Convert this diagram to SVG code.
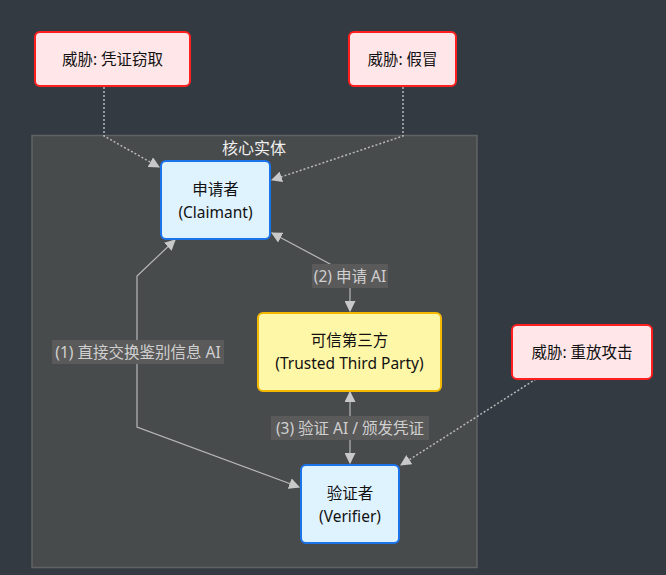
<svg xmlns="http://www.w3.org/2000/svg" width="666" height="575" viewBox="0 0 666 575">
<defs>
<marker id="ah" viewBox="0 0 10 10" refX="9" refY="5" markerWidth="11" markerHeight="11" markerUnits="userSpaceOnUse" orient="auto-start-reverse">
<path d="M0,0 L10,5 L0,10 z" fill="#c8c8c8"/>
</marker>
<style>
text{font-family:"Noto Sans","Noto Sans CJK SC",sans-serif;font-size:15.5px;text-anchor:middle;dominant-baseline:central}
.threat rect{fill:#ffe6e8;stroke:#ff1f1f;stroke-width:2}
.ent rect{fill:#dff3ff;stroke:#1a73e8;stroke-width:2}
.ttp rect{fill:#fff7a8;stroke:#f5b800;stroke-width:2}
.node text{fill:#111}
.e{fill:none;stroke:#b8b8b8;stroke-width:1.2}
.d{fill:none;stroke:#b8b8b8;stroke-width:1.5;stroke-dasharray:2,2}
.lb{fill:#5a5a5a}
.lt{fill:#d0d0d0}
</style>
</defs>
<rect width="666" height="575" fill="#333a42"/>
<g id="cluster">
<rect x="32" y="135.5" width="445" height="432" fill="#484b4c" stroke="#606364" stroke-width="1.5"/>
<text x="254" y="148" fill="#f0f0f0" style="font-size:16px">核心实体</text>
</g>
<g id="connectors">
<path class="d" d="M104,87 L104,136 L159,167" marker-end="url(#ah)"/>
<path class="d" d="M403,87 L403,136 L272,180" marker-end="url(#ah)"/>
<path class="d" d="M536,379 L401,465" marker-end="url(#ah)"/>
<path class="e" d="M299,487 L137,427 L137,276 L175,240" marker-start="url(#ah)" marker-end="url(#ah)"/>
<path class="e" d="M272,233 L330,264 L350,276 L350,311" marker-start="url(#ah)" marker-end="url(#ah)"/>
<path class="e" d="M350,392 L350,463" marker-start="url(#ah)" marker-end="url(#ah)"/>
<rect class="lb" x="52" y="340" width="172" height="24"/>
<text class="lt" x="138" y="352">(1) 直接交换鉴别信息 AI</text>
<rect class="lb" x="312" y="264" width="76" height="24"/>
<text class="lt" x="350" y="276">(2) 申请 AI</text>
<rect class="lb" x="271" y="416" width="158" height="24"/>
<text class="lt" x="350" y="428">(3) 验证 AI / 颁发凭证</text>
</g>
<g id="threat1" class="node threat">
<rect x="35" y="32" width="155" height="54" rx="5"/>
<text x="112.5" y="59">威胁: 凭证窃取</text>
</g>
<g id="threat2" class="node threat">
<rect x="349" y="32" width="107" height="54" rx="5"/>
<text x="402.5" y="59">威胁: 假冒</text>
</g>
<g id="threat3" class="node threat">
<rect x="512" y="325" width="140" height="54" rx="5"/>
<text x="582" y="352">威胁: 重放攻击</text>
</g>
<g id="claimant" class="node ent">
<rect x="161" y="161" width="109" height="78" rx="5"/>
<text x="215.5" y="189">申请者</text>
<text x="215.5" y="212">(Claimant)</text>
</g>
<g id="ttp" class="node ttp">
<rect x="258" y="313" width="183" height="78" rx="5"/>
<text x="349.5" y="340">可信第三方</text>
<text x="349.5" y="363">(Trusted Third Party)</text>
</g>
<g id="verifier" class="node ent">
<rect x="301" y="465" width="98" height="78" rx="5"/>
<text x="350" y="493">验证者</text>
<text x="350" y="516">(Verifier)</text>
</g>
</svg>
